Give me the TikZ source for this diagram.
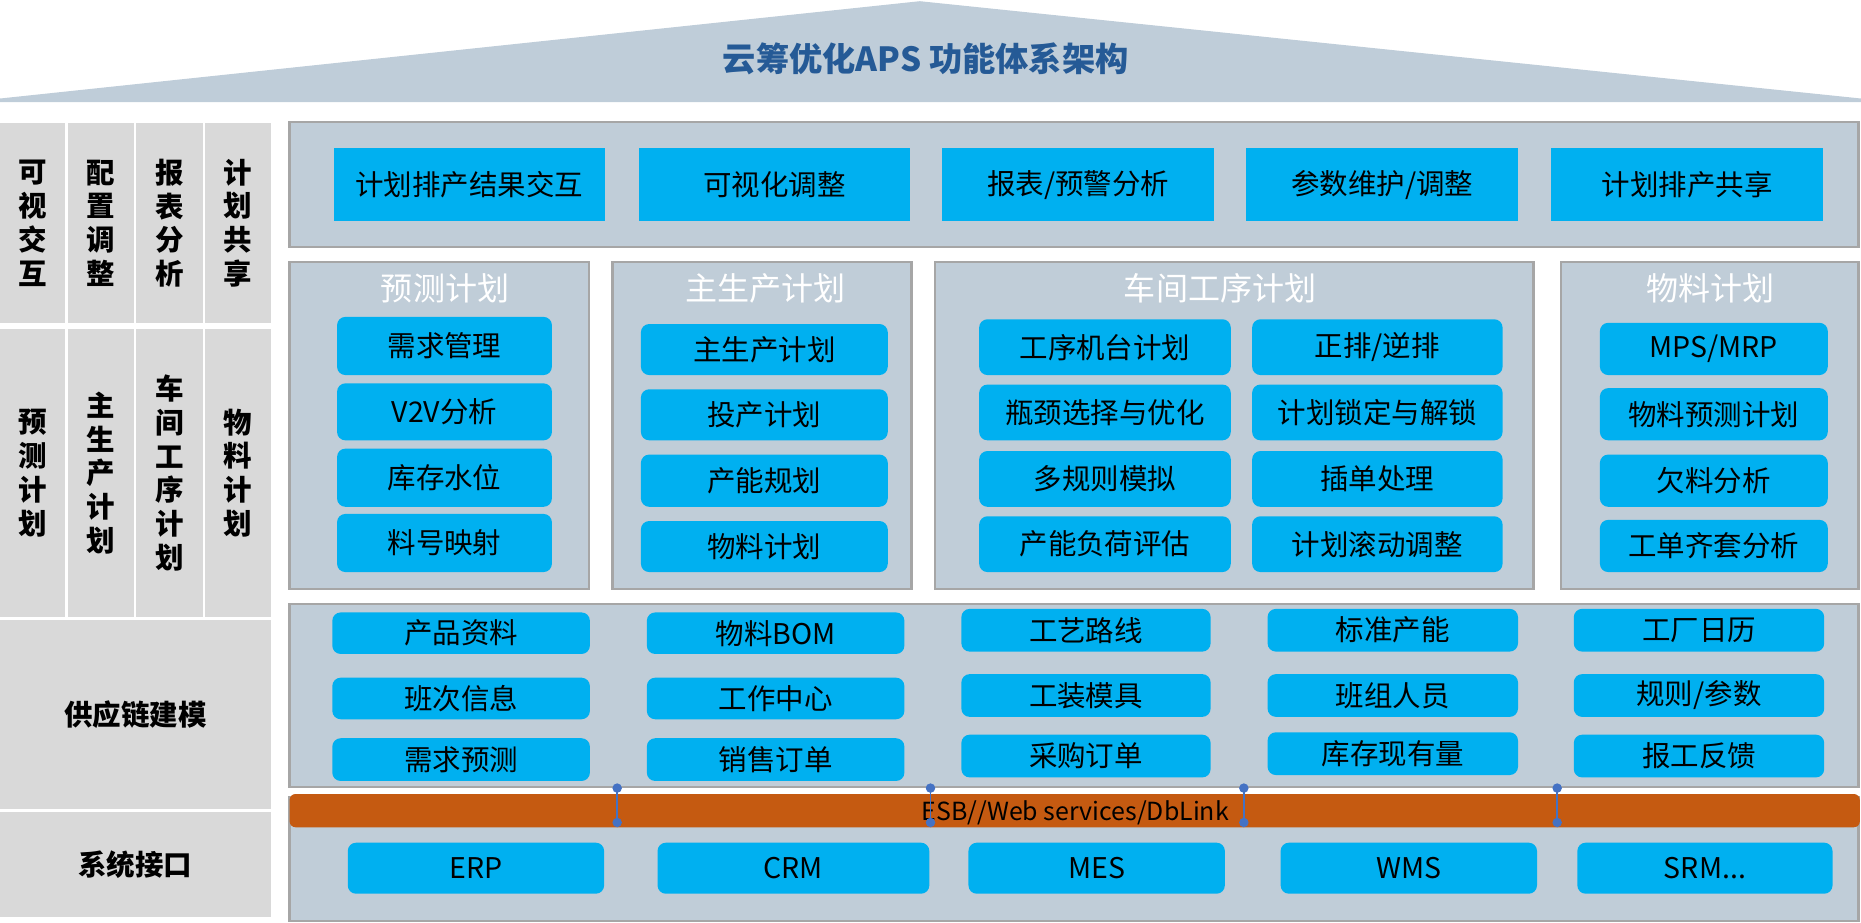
\documentclass[tikz,border=0pt]{standalone}
\usepackage{fontspec}
\setmainfont{Noto Sans CJK SC}
\definecolor{roofc}{RGB}{191,205,217}
\definecolor{panelc}{RGB}{192,205,216}
\definecolor{pborder}{RGB}{166,166,166}
\definecolor{boxc}{RGB}{0,176,240}
\definecolor{sidec}{RGB}{217,217,217}
\definecolor{esbc}{RGB}{197,90,17}
\definecolor{dotc}{RGB}{68,114,196}
\definecolor{ttlc}{RGB}{37,90,150}
\newcommand{\mkbox}[7]{%
  \pgfmathsetmacro{\bxw}{#5-#3}\pgfmathsetmacro{\bxh}{#6-#4}%
  \node[#1, minimum width=\bxw pt, minimum height=\bxh pt, anchor=north west] (#2) at (#3,#4) {#7};}
\begin{document}
\begin{tikzpicture}[x=1pt,y=-1pt,
  every node/.style={inner sep=0pt, outer sep=0pt},
  panelbox/.style={draw=pborder, line width=2pt, fill=panelc},
  sidebox/.style={fill=sidec},
  sqbox/.style={fill=boxc, font=\fontsize{24}{28}\selectfont, text=black},
  rbox/.style={fill=boxc, rounded corners=7pt, font=\fontsize{24}{28}\selectfont, text=black},
  esbbar/.style={fill=esbc, rounded corners=5pt},
  ptitle/.style={text=white, font=\fontsize{27}{30}\selectfont},
  sidetxt/.style={align=center, font=\fontsize{24}{28.5}\selectfont\bfseries, text=black},
  dotn/.style={circle, fill=dotc, minimum size=8pt},
  conn/.style={draw=dotc, line width=1.5pt}
]
\useasboundingbox (0,0) rectangle (1568,777);
% roof
\fill[roofc] (0,86) -- (0,83) -- (775,1) -- (1568,83) -- (1568,86) -- cycle;
\node[font=\fontsize{28}{32}\selectfont\bfseries, text=ttlc] (title) at (780,50) {云筹优化APS 功能体系架构};

% left side column
\mkbox{sidebox}{sa1}{0}{104}{55}{272}{}
\mkbox{sidebox}{sa2}{57}{104}{113}{272}{}
\mkbox{sidebox}{sa3}{115}{104}{171}{272}{}
\mkbox{sidebox}{sa4}{173}{104}{228}{272}{}
\mkbox{sidebox}{sb1}{0}{277}{55}{520}{}
\mkbox{sidebox}{sb2}{57}{277}{113}{520}{}
\mkbox{sidebox}{sb3}{115}{277}{171}{520}{}
\mkbox{sidebox}{sb4}{173}{277}{228}{520}{}
\mkbox{sidebox}{sc}{0}{522}{228}{682}{}
\mkbox{sidebox}{sd}{0}{684}{228}{773}{}
\node[sidetxt] (ta1) at (sa1) {可\\视\\交\\互};
\node[sidetxt] (ta2) at (sa2) {配\\置\\调\\整};
\node[sidetxt] (ta3) at (sa3) {报\\表\\分\\析};
\node[sidetxt] (ta4) at (sa4) {计\\划\\共\\享};
\node[sidetxt] (tb1) at (sb1) {预\\测\\计\\划};
\node[sidetxt] (tb2) at (sb2) {主\\生\\产\\计\\划};
\node[sidetxt] (tb3) at (sb3) {车\\间\\工\\序\\计\\划};
\node[sidetxt] (tb4) at (sb4) {物\\料\\计\\划};
\node[sidetxt] (tc) at (sc) {供应链建模};
\node[sidetxt] (td) at (sd) {系统接口};

% top panel
\mkbox{panelbox}{p1}{244}{103}{1566}{208}{}
\mkbox{sqbox}{t1}{281}{125}{510}{186}{计划排产结果交互}
\mkbox{sqbox}{t2}{538}{125}{767}{186}{可视化调整}
\mkbox{sqbox}{t3}{794}{125}{1023}{186}{报表/预警分析}
\mkbox{sqbox}{t4}{1050}{125}{1279}{186}{参数维护/调整}
\mkbox{sqbox}{t5}{1307}{125}{1536}{186}{计划排产共享}

% second row panels
\mkbox{panelbox}{p2a}{244}{221}{496}{496}{}
\mkbox{panelbox}{p2b}{516}{221}{768}{496}{}
\mkbox{panelbox}{p2c}{788}{221}{1292}{496}{}
\mkbox{panelbox}{p2d}{1315}{221}{1566}{496}{}
\node[ptitle] (h1) at (375,243) {预测计划};
\node[ptitle] (h2) at (645,243) {主生产计划};
\node[ptitle] (h3) at (1028,243) {车间工序计划};
\node[ptitle] (h4) at (1441,243) {物料计划};

\mkbox{rbox}{a1}{284}{267}{465}{316}{需求管理}
\mkbox{rbox}{a2}{284}{323}{465}{371}{V2V分析}
\mkbox{rbox}{a3}{284}{378}{465}{427}{库存水位}
\mkbox{rbox}{a4}{284}{433}{465}{482}{料号映射}

\mkbox{rbox}{b1}{540}{273}{748}{316}{主生产计划}
\mkbox{rbox}{b2}{540}{328}{748}{371}{投产计划}
\mkbox{rbox}{b3}{540}{383}{748}{427}{产能规划}
\mkbox{rbox}{b4}{540}{439}{748}{482}{物料计划}

\mkbox{rbox}{c1}{825}{269}{1037}{316}{工序机台计划}
\mkbox{rbox}{c2}{825}{324}{1037}{371}{瓶颈选择与优化}
\mkbox{rbox}{c3}{825}{380}{1037}{427}{多规则模拟}
\mkbox{rbox}{c4}{825}{435}{1037}{482}{产能负荷评估}
\mkbox{rbox}{c5}{1055}{269}{1266}{316}{正排/逆排}
\mkbox{rbox}{c6}{1055}{324}{1266}{371}{计划锁定与解锁}
\mkbox{rbox}{c7}{1055}{380}{1266}{427}{插单处理}
\mkbox{rbox}{c8}{1055}{435}{1266}{482}{计划滚动调整}

\mkbox{rbox}{d1}{1348}{272}{1540}{316}{MPS/MRP}
\mkbox{rbox}{d2}{1348}{327}{1540}{371}{物料预测计划}
\mkbox{rbox}{d3}{1348}{383}{1540}{427}{欠料分析}
\mkbox{rbox}{d4}{1348}{438}{1540}{482}{工单齐套分析}

% third panel
\mkbox{panelbox}{p3}{244}{509}{1566}{663}{}
\mkbox{rbox}{e1}{280}{516}{497}{551}{产品资料}
\mkbox{rbox}{e2}{280}{571}{497}{606}{班次信息}
\mkbox{rbox}{e3}{280}{622}{497}{658}{需求预测}
\mkbox{rbox}{f1}{545}{516}{762}{551}{物料BOM}
\mkbox{rbox}{f2}{545}{571}{762}{606}{工作中心}
\mkbox{rbox}{f3}{545}{622}{762}{658}{销售订单}
\mkbox{rbox}{g1}{810}{513}{1020}{549}{工艺路线}
\mkbox{rbox}{g2}{810}{568}{1020}{604}{工装模具}
\mkbox{rbox}{g3}{810}{619}{1020}{655}{采购订单}
\mkbox{rbox}{k1}{1068}{513}{1279}{549}{标准产能}
\mkbox{rbox}{k2}{1068}{568}{1279}{604}{班组人员}
\mkbox{rbox}{k3}{1068}{617}{1279}{653}{库存现有量}
\mkbox{rbox}{m1}{1326}{513}{1537}{549}{工厂日历}
\mkbox{rbox}{m2}{1326}{568}{1537}{604}{规则/参数}
\mkbox{rbox}{m3}{1326}{619}{1537}{655}{报工反馈}

% bottom panel
\mkbox{panelbox}{p4}{244}{672}{1566}{776}{}
\mkbox{esbbar}{esb}{244}{669}{1567}{697}{}
\node[font=\fontsize{21}{24}\selectfont, text=black] (esbt) at (906,685) {ESB//Web services/DbLink};
\mkbox{rbox}{s1}{293}{710}{509}{753}{ERP}
\mkbox{rbox}{s2}{554}{710}{783}{753}{CRM}
\mkbox{rbox}{s3}{816}{710}{1032}{753}{MES}
\mkbox{rbox}{s4}{1079}{710}{1295}{753}{WMS}
\mkbox{rbox}{s5}{1329}{710}{1544}{753}{SRM...}

% connectors
\foreach \i/\xx in {1/520,2/784,3/1048,4/1312}{
  \node[dotn] (u\i) at (\xx,664) {};
  \node[dotn] (v\i) at (\xx,693) {};
  \draw[conn] (u\i.center) -- (v\i.center);
}
\end{tikzpicture}
\end{document}
